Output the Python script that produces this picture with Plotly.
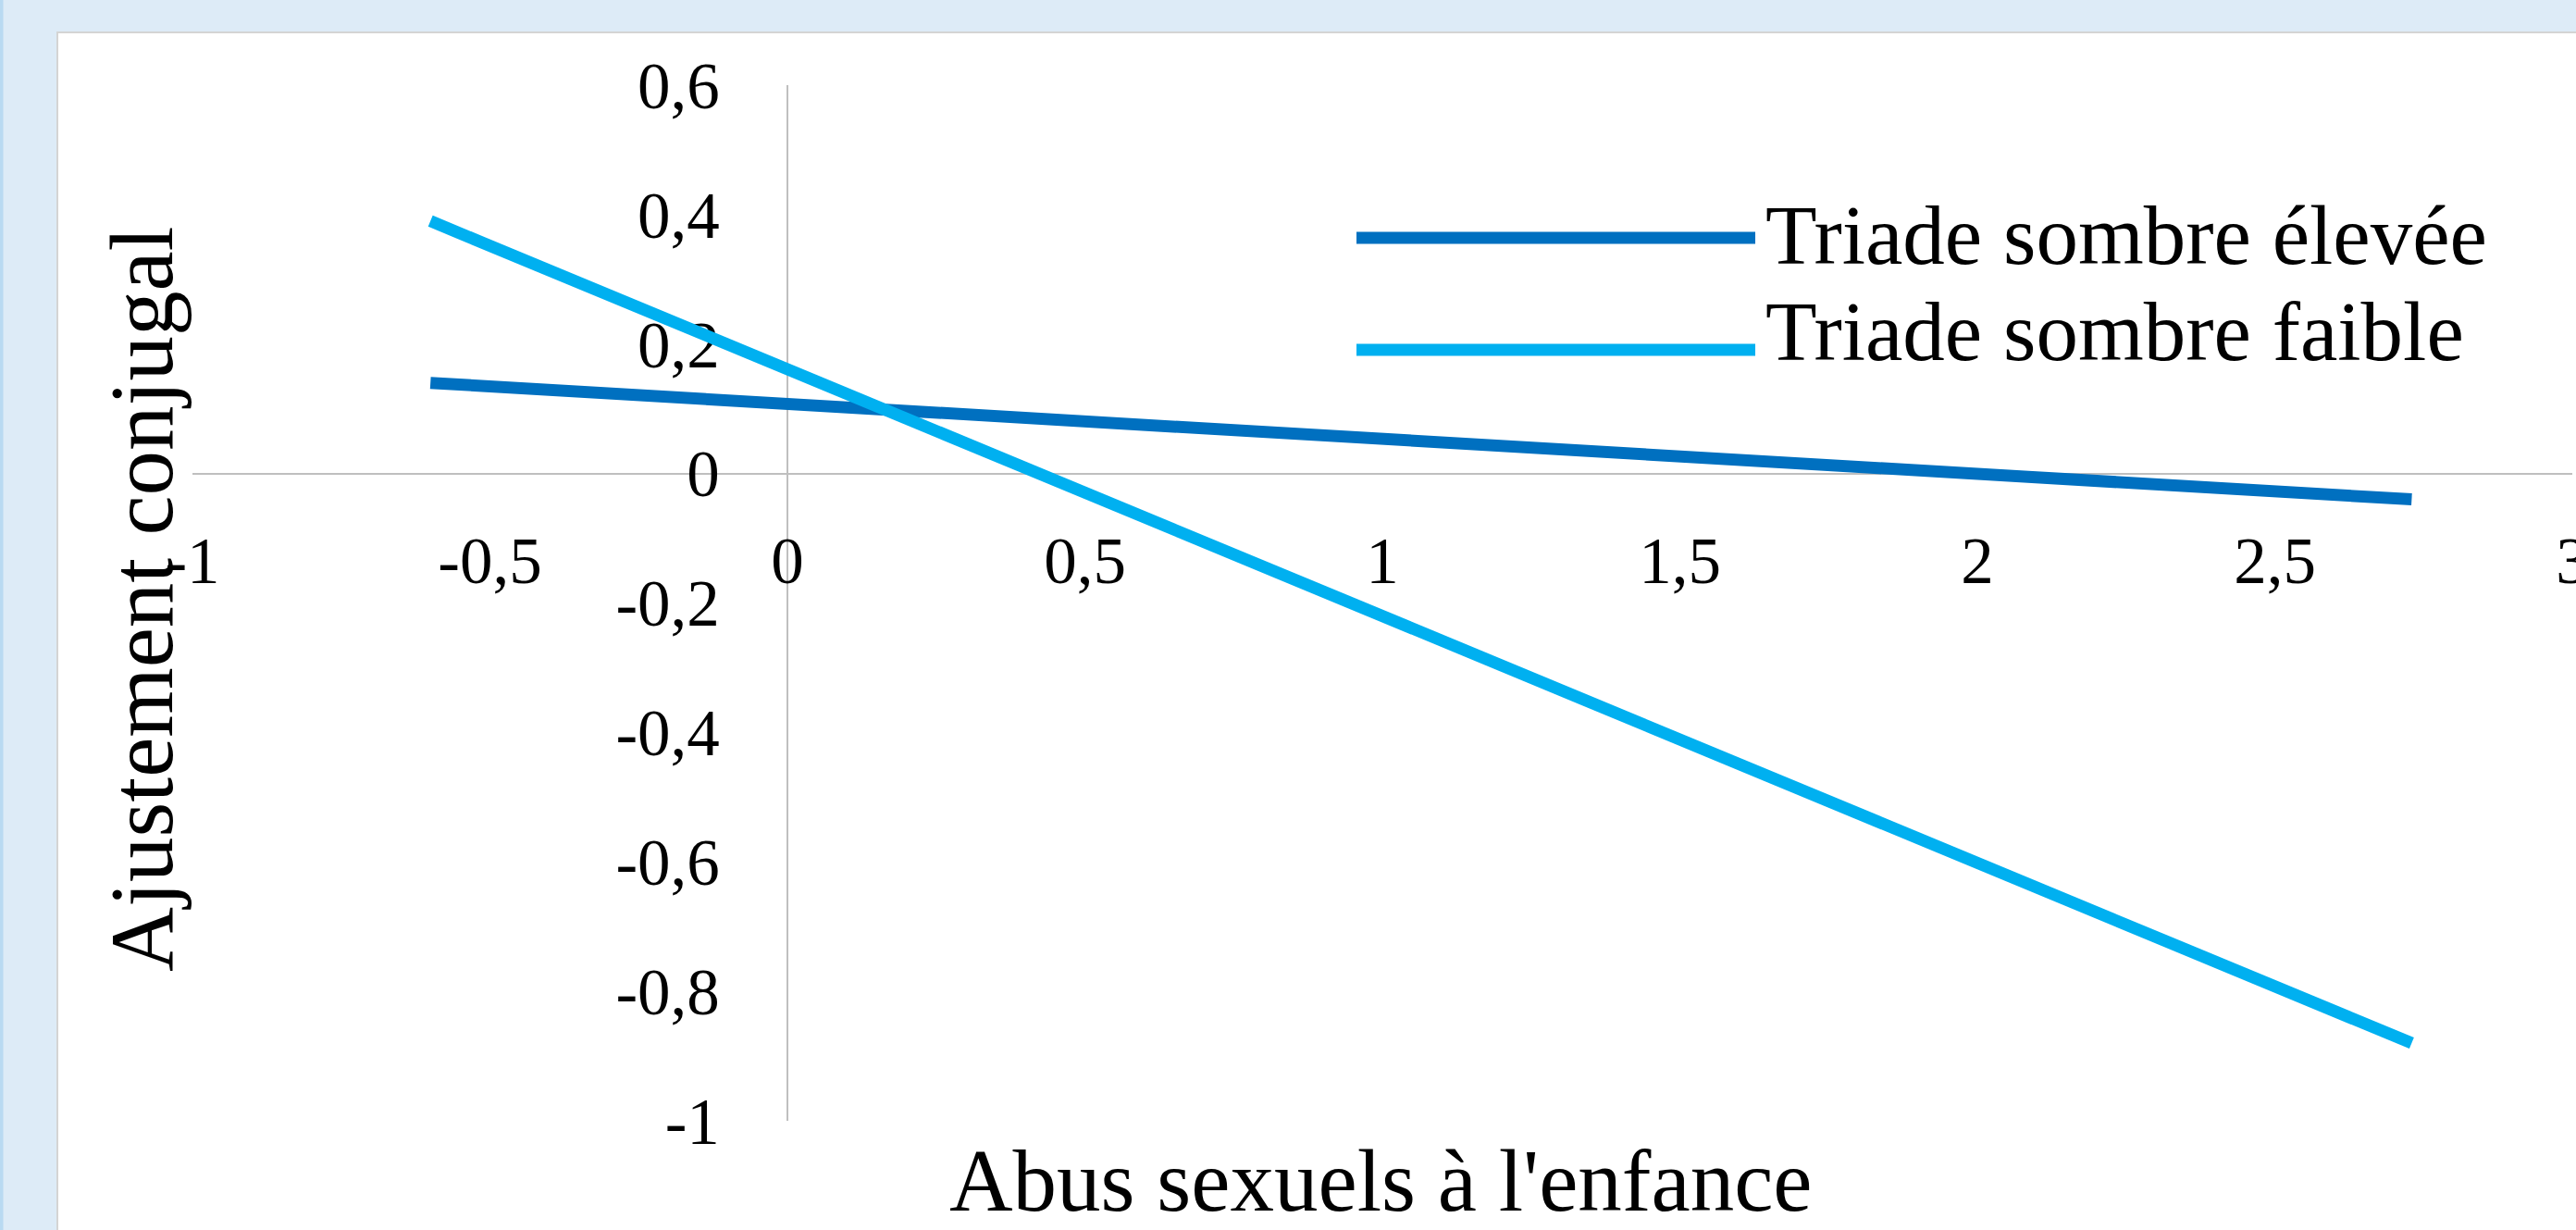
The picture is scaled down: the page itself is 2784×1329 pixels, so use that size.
import plotly.graph_objects as go

# ---- data ----
x_abuse = [-0.60, 2.73]
y_high = [0.14, -0.04]      # Triade sombre élevée
y_low = [0.39, -0.88]       # Triade sombre faible
series_names = ["Triade sombre élevée", "Triade sombre faible"]

x_tickvals = [-1, -0.5, 0, 0.5, 1, 1.5, 2, 2.5, 3]
x_ticktext = ["-1", "-0,5", "0", "0,5", "1", "1,5", "2", "2,5", "3"]
y_tickvals = [0.6, 0.4, 0.2, 0, -0.2, -0.4, -0.6, -0.8, -1]
y_ticktext = ["0,6", "0,4", "0,2", "0", "-0,2", "-0,4", "-0,6", "-0,8", "-1"]

x_title = "Abus sexuels à l'enfance"
y_title = "Ajustement conjugal"

# ---- layout geometry ----
W, H = 2784, 1329
XR = [-1, 3]
YR = [-1, 0.6]
xdom = [208 / W, 2780 / W]
ydom = [(H - 1211) / H, (H - 92) / H]
xpos0 = xdom[0] + (0 - XR[0]) / (XR[1] - XR[0]) * (xdom[1] - xdom[0])
ypos0 = ydom[0] + (0 - YR[0]) / (YR[1] - YR[0]) * (ydom[1] - ydom[0])

FONT = "Liberation Serif, Times New Roman, serif"
DARK = "#0070C0"
LIGHT = "#00B0F0"

fig = go.Figure()
fig.add_trace(go.Scatter(x=x_abuse, y=y_high, mode="lines", name=series_names[0],
                         line=dict(color=DARK, width=13)))
fig.add_trace(go.Scatter(x=x_abuse, y=y_low, mode="lines", name=series_names[1],
                         line=dict(color=LIGHT, width=13)))

axis_common = dict(showgrid=False, zeroline=False, showline=True, linecolor="#BFBFBF",
                   linewidth=2, ticks="", layer="below traces", automargin=False,
                   ticklabeloverflow="allow",
                   tickfont=dict(family=FONT, size=71, color="black"),
                   fixedrange=True)

fig.update_layout(
    template="none",
    width=W, height=H,
    margin=dict(l=0, r=0, t=0, b=0, pad=0),
    paper_bgcolor="#DDEBF7",
    plot_bgcolor="rgba(0,0,0,0)",
    showlegend=False,
    xaxis=dict(range=XR, domain=xdom, anchor="free", position=ypos0,
               tickvals=x_tickvals, ticktext=x_ticktext, ticklabelstandoff=32, **axis_common),
    yaxis=dict(range=YR, domain=ydom, anchor="free", position=xpos0,
               tickvals=y_tickvals, ticktext=y_ticktext, ticklabelstandoff=58, **axis_common),
)

# background panels
fig.add_shape(type="rect", xref="paper", yref="paper", x0=0, x1=3.5 / W, y0=-0.01, y1=1.01,
              fillcolor="#B9DAF2", line=dict(width=0), layer="below")
fig.add_shape(type="rect", xref="paper", yref="paper", x0=62 / W, x1=1.01, y0=-0.01, y1=(H - 35) / H,
              fillcolor="white", line=dict(color="#D4D4D4", width=2), layer="below")

# legend (manual, to reproduce long line samples)
leg_line_y = [257, 378]
leg_text_y = [254, 359]
for name, col, ly, ty in zip(series_names, [DARK, LIGHT], leg_line_y, leg_text_y):
    fig.add_shape(type="line", xref="paper", yref="paper", x0=1466 / W, x1=1897 / W,
                  y0=(H - ly) / H, y1=(H - ly) / H, line=dict(color=col, width=13))
    fig.add_annotation(text=name, xref="paper", yref="paper", x=1906 / W, y=(H - ty) / H,
                       xanchor="left", yanchor="middle", showarrow=False,
                       font=dict(family=FONT, size=91, color="black"))

# axis titles
fig.add_annotation(text=x_title, xref="paper", yref="paper", x=1492 / W, y=(H - 1276) / H,
                   xanchor="center", yanchor="middle", showarrow=False,
                   font=dict(family=FONT, size=95, color="black"))
fig.add_annotation(text=y_title, xref="paper", yref="paper", x=153 / W, y=(H - 648) / H,
                   xanchor="center", yanchor="middle", showarrow=False, textangle=-90,
                   font=dict(family=FONT, size=97, color="black"))

fig.write_html("out.html", config={"displayModeBar": False},
               post_script="document.body.style.margin='0';document.body.style.overflow='hidden';")
